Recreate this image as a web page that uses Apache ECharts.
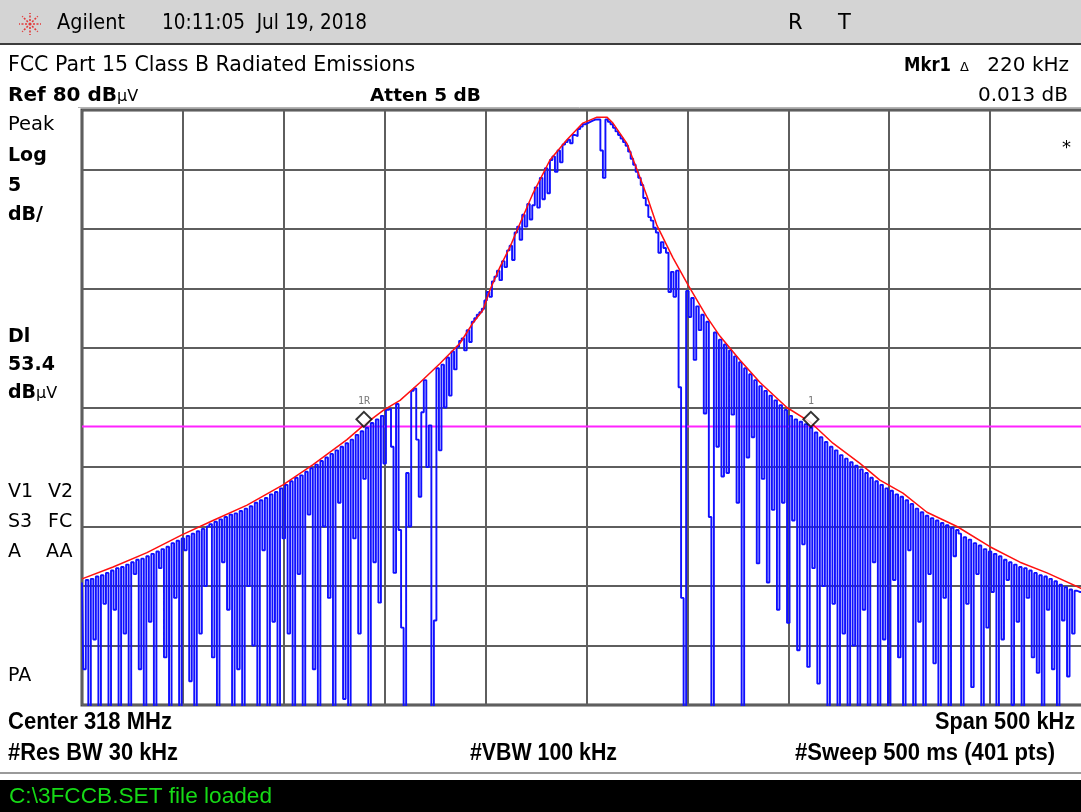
<!DOCTYPE html>
<html><head><meta charset="utf-8">
<script src="https://cdn.jsdelivr.net/npm/echarts@6/dist/echarts.min.js"></script>
<style>html,body{margin:0;padding:0;background:#fff;}#c{width:1081px;height:812px;}</style>
</head><body><div id="c"></div>
<script>
// ---- sweep settings (from the screen annotations) ----
const sweepStartKHz = -250;   // Center 318 MHz, Span 500 kHz
const sweepSpanKHz = 500;
const sweepPoints = 401;
const yMin = 30, yMax = 80, yStep = 5;   // Ref 80 dBuV, 5 dB/div
const xStep = 50;

// ---- blue trace (clear/write), 401 points, dBuV ----
const traceBlue = [
40.3,33,40.5,28,40.6,35.5,40.8,28,40.9,38.5,
41.1,28,41.3,38,41.5,29,41.6,36,41.8,28,
42.0,41,42.2,33,42.3,28,42.5,37,42.7,28,
42.9,41.5,43.1,34,43.3,28,43.6,39,43.8,28,
44.0,43,44.2,32,44.4,28,44.6,36,44.8,40,
45.0,
45.2,34,45.4,28,45.6,42,45.8,38,
46.0,28,46.1,33,46.3,28,46.5,40,46.7,35,
47.0,28,47.2,43,47.4,28,47.7,37,47.9,28,
48.2,44,48.5,36,48.8,28,49.1,41,49.3,28,
49.6,46,49.9,33,50.2,28,50.5,45,50.8,39,
51.1,28,51.4,47,51.7,30.5,52.0,28,52.3,44,
52.7,36,53.0,49,53.3,28,53.7,42,54.0,38.6,
54.3,
50.3,54.8,54.9,51.7,41.1,55.3,44.7,36.5,28,49.5,
45,56.4,56.6,52.3,47.5,54.6,57.3,50,53.5,28,
37.1,58.3,51.4,58.6,55.0,59.2,56.0,59.7,58.2,60.1,
60.6,60.8,59.8,61.5,60.5,62.2,62.5,62.8,63.0,63.3,
64.0,64.7,64.3,65.6,66.0,66.5,65.7,67.3,66.8,68.2,
68.6,67.4,69.7,70.2,69.1,71.2,70.2,72.1,70.8,72.0,
73.5,71.8,74.3,72.5,75.1,73.0,75.8,76.1,74.8,76.6,
75.6,77.1,77.3,77.5,77.2,77.9,77.8,78.4,78.6,78.8,
78.9,79.0,79.1,79.2,79.2,79.2,76.6,74.3,79.2,79.0,
78.8,78.5,78.2,77.9,77.6,77.3,77.0,76.5,75.9,75.4,
74.8,74.3,73.7,
72.6,72.0,71.0,70.7,70.1,69.7,
68.0,68.9,68.4,68.0,64.7,66.4,64.3,66.5,56.7,39.0,
28,64.8,62.6,64.2,59.0,63.5,61.5,62.8,54.5,62.2,
45.8,28,61.3,51.7,60.7,49.2,60.3,49.5,59.8,54.4,
59.3,47.0,58.8,28,58.3,50.8,57.8,52.5,57.3,41.9,
56.8,49.0,56.4,40.3,56.0,46.4,55.6,38.0,55.2,47.0,
54.8,36.9,
54.3,45.5,54.0,34.6,53.8,43.5,53.6,33.2,53.3,41.5,
52.9,31.8,52.5,40.0,52.1,28,51.7,38.5,51.4,28,
51.0,36.0,50.7,28,50.4,35.0,50.1,28,49.8,38.0,
49.5,28,49.1,42.0,48.8,28,48.5,35.5,48.2,28,
48.0,40.5,47.7,34.0,47.5,28,47.2,43.0,46.9,28,
46.5,37.0,46.2,28,45.9,41.0,45.7,33.5,45.5,28,
45.3,39.0,45.1,28,44.9,42.5,44.7,
44.4,28,44.1,38.5,43.9,31.5,43.6,41.0,43.4,28,
43.1,36.5,42.9,39.5,42.7,28,42.5,35.5,42.2,40.5,
42.0,30.0,41.8,37.0,41.6,28,41.5,39.0,41.3,34.0,
41.1,32.7,40.9,28,40.8,38.0,40.6,33.0,40.4,28,
40.1,37.1,39.9,32.4,39.7,36.0,39.6,39.5,39.5,
28,39.3,35,39.2
];

// ---- red trace (max hold envelope): offset from centre (kHz) and level (dBuV) ----
const envFreq = [-250,-234.6,-217.8,-200.5,-185.1,-168.2,-150.4,-135.5,-118.7,-109.8,
  -100.4,-92.4,-82.5,-72.6,-62.7,-56.3,-51.3,-47.8,-42.9,-37.9,
  -34.4,-26.5,-18.1,-9.7,-1.8,5.2,10.1,13.1,20.0,25.0,
  29.9,34.9,42.8,50.3,59.7,66.1,76.0,86.0,99.3,110.7,
  122.1,135.5,145.4,156.8,168.7,183.6,199.9,214.8,228.2,245.0,250];
const envLevel = [40.6,41.6,42.8,44.3,45.5,46.8,48.5,50.2,52.3,53.6,
  54.8,55.6,57.1,58.7,60.4,62.1,63.2,64.9,66.8,68.5,
  69.9,73.0,75.8,77.5,78.9,79.4,79.4,78.9,77.2,75.0,
  72.8,70.3,67.6,65.3,62.6,61.0,59.0,57.1,55.0,53.8,
  52.0,50.3,48.9,47.8,46.2,45.0,43.3,42.0,41.1,39.8,39.5];

// ---- markers and display line ----
const markerNames = ['1R', '1'];
const markerFreq = [-110.3, 111.2];
const markerLevel = [53.5, 53.5];
const displayLine = 53.4;

// ---------------------------------------------------------------
const blueData = traceBlue.map((v, i) => [sweepStartKHz + i * sweepSpanKHz / (sweepPoints - 1), v]);
const redData = envFreq.map((f, i) => [f, envLevel[i]]);

const mctx = document.createElement('canvas').getContext('2d');
function tw(str, font) { mctx.font = font; return mctx.measureText(str).width; }
function T(str, x, y, font, opt) {
  opt = opt || {};
  const align = opt.align || 'left';
  const sx = opt.w ? opt.w / tw(str, font) : 1;
  return { type: 'text', x: x, y: y, scaleX: sx, silent: true, z: 20,
    style: { text: str, font: font, fill: opt.fill || '#000', align: align, verticalAlign: 'middle',
             textAlign: align, textVerticalAlign: 'middle' } };
}
const F = '"DejaVu Sans", sans-serif';
const NB = 'bold 24px "Liberation Sans Narrow", "Liberation Sans", sans-serif';
const NR = '22px "Liberation Sans Narrow", "Liberation Sans", sans-serif';

const g = [];
// header bar
g.push({ type: 'rect', shape: { x: 0, y: 0, width: 1081, height: 43 }, style: { fill: '#d4d4d4' }, silent: true });
g.push({ type: 'line', shape: { x1: 0, y1: 44, x2: 1081, y2: 44 }, style: { stroke: '#3c3c3c', lineWidth: 2 }, silent: true });
// Agilent spark logo
for (let a = 0; a < 8; a++) {
  const ang = a * Math.PI / 4;
  g.push({ type: 'line', silent: true, shape: { x1: 30 + 3 * Math.cos(ang), y1: 24 + 3 * Math.sin(ang), x2: 30 + 11 * Math.cos(ang), y2: 24 + 11 * Math.sin(ang) },
    style: { stroke: '#e23a3a', lineWidth: 1.6, lineDash: [2, 1.5] } });
}
g.push({ type: 'circle', silent: true, shape: { cx: 30, cy: 24, r: 1.6 }, style: { fill: '#e23a3a' } });
g.push(T('Agilent', 57, 24, '21px ' + F, { w: 68 }));
g.push(T('10:11:05  Jul 19, 2018', 162, 24, '21px ' + F, { w: 205 }));
g.push(T('R', 788, 24, '21px ' + F));
g.push(T('T', 838, 24, '21px ' + F));
// second / third line
g.push(T('FCC Part 15 Class B Radiated Emissions', 8, 66, '20.5px ' + F));
g.push(T('220 kHz', 1069, 66, '20px ' + F, { align: 'right' }));
g.push(T('\u0394', 960, 68, '13px ' + F));
g.push(T('Mkr1', 904, 66, 'bold 19px ' + F, { w: 47 }));
g.push(T('Ref 80 dB', 8, 96, 'bold 20px ' + F));
g.push(T('\u00b5V', 8 + tw('Ref 80 dB', 'bold 20px ' + F), 97, '16px ' + F));
g.push(T('Atten 5 dB', 370, 96, 'bold 18.5px ' + F));
g.push(T('0.013 dB', 1068, 96, '20px ' + F, { align: 'right' }));
g.push({ type: 'line', silent: true, shape: { x1: 78, y1: 107.5, x2: 1081, y2: 107.5 }, style: { stroke: '#b4b4b4', lineWidth: 1 } });
// left status column
g.push(T('Peak', 8, 125, '19.5px ' + F));
g.push(T('Log', 8, 156, 'bold 19px ' + F));
g.push(T('5', 8, 186, 'bold 19px ' + F));
g.push(T('dB/', 8, 215, 'bold 19px ' + F));
g.push(T('Dl', 8, 337, 'bold 19px ' + F));
g.push(T('53.4', 8, 365, 'bold 19px ' + F));
g.push(T('dB', 8, 393, 'bold 19px ' + F));
g.push(T('\u00b5V', 8 + tw('dB', 'bold 19px ' + F), 394, '16px ' + F));
g.push(T('V1', 8, 492, '19px ' + F));
g.push(T('V2', 48, 492, '19px ' + F));
g.push(T('S3', 8, 522, '19px ' + F));
g.push(T('FC', 48, 522, '19px ' + F));
g.push(T('A', 8, 552, '19px ' + F));
g.push(T('AA', 46, 552, '19px ' + F));
g.push(T('PA', 8, 676, '19px ' + F));
g.push(T('*', 1062, 148, '18px ' + F));
// bottom annotations
g.push(T('Center 318 MHz', 8, 722, NB, { w: 164 }));
g.push(T('Span 500 kHz', 1075, 722, NB, { align: 'right', w: 140 }));
g.push(T('#Res BW 30 kHz', 8, 753, NB, { w: 170 }));
g.push(T('#VBW 100 kHz', 470, 753, NB, { w: 147 }));
g.push(T('#Sweep 500 ms (401 pts)', 1055, 753, NB, { align: 'right', w: 260 }));
g.push({ type: 'line', silent: true, shape: { x1: 0, y1: 773, x2: 1081, y2: 773 }, style: { stroke: '#9a9a9a', lineWidth: 2 } });
g.push({ type: 'rect', silent: true, shape: { x: 0, y: 780, width: 1081, height: 32 }, style: { fill: '#000' } });
g.push(T('C:\\3FCCB.SET file loaded', 9, 797, NR, { w: 263, fill: '#16d916' }));

const chart = echarts.init(document.getElementById('c'), null, { renderer: 'canvas' });
chart.setOption({
  animation: false,
  backgroundColor: '#ffffff',
  graphic: { elements: g },
  grid: { left: 82, top: 110, width: 1009, height: 595, show: true, borderColor: '#4a4a4a', borderWidth: 3,
          backgroundColor: 'transparent', containLabel: false, outerBoundsMode: 'none' },
  xAxis: { type: 'value', min: sweepStartKHz, max: sweepStartKHz + sweepSpanKHz, interval: xStep,
    axisLabel: { show: false }, axisTick: { show: false }, axisLine: { show: false },
    splitLine: { show: true, lineStyle: { color: '#5e5e5e', width: 2 } } },
  yAxis: { type: 'value', min: yMin, max: yMax, interval: yStep,
    axisLabel: { show: false }, axisTick: { show: false }, axisLine: { show: false },
    splitLine: { show: true, lineStyle: { color: '#5e5e5e', width: 2 } } },
  series: [
    { type: 'line', name: 'display line', data: [[sweepStartKHz, displayLine], [sweepStartKHz + sweepSpanKHz, displayLine]],
      symbol: 'none', lineStyle: { color: '#ff22ff', width: 2 }, z: 1, silent: true },
    { type: 'line', name: 'trace 1', data: blueData, step: 'middle', symbol: 'none',
      lineStyle: { color: '#1010ff', width: 1.9 }, z: 2, clip: true, silent: true },
    { type: 'line', name: 'trace 2', data: redData, symbol: 'none',
      lineStyle: { color: '#ff1010', width: 1.5 }, z: 3, clip: true, silent: true },
    { type: 'scatter', name: 'markers',
      data: markerFreq.map((f, i) => ({ name: markerNames[i], value: [f, markerLevel[i]] })),
      symbol: 'diamond', symbolSize: [15, 15], symbolOffset: [0, -6],
      itemStyle: { color: '#ffffff', borderColor: '#000000', borderWidth: 2 },
      label: { show: true, position: 'top', distance: 4, formatter: '{b}', fontSize: 10,
               color: '#555555', fontFamily: '"DejaVu Sans Mono", monospace' },
      z: 5, silent: true }
  ]
});
</script>
</body></html>
